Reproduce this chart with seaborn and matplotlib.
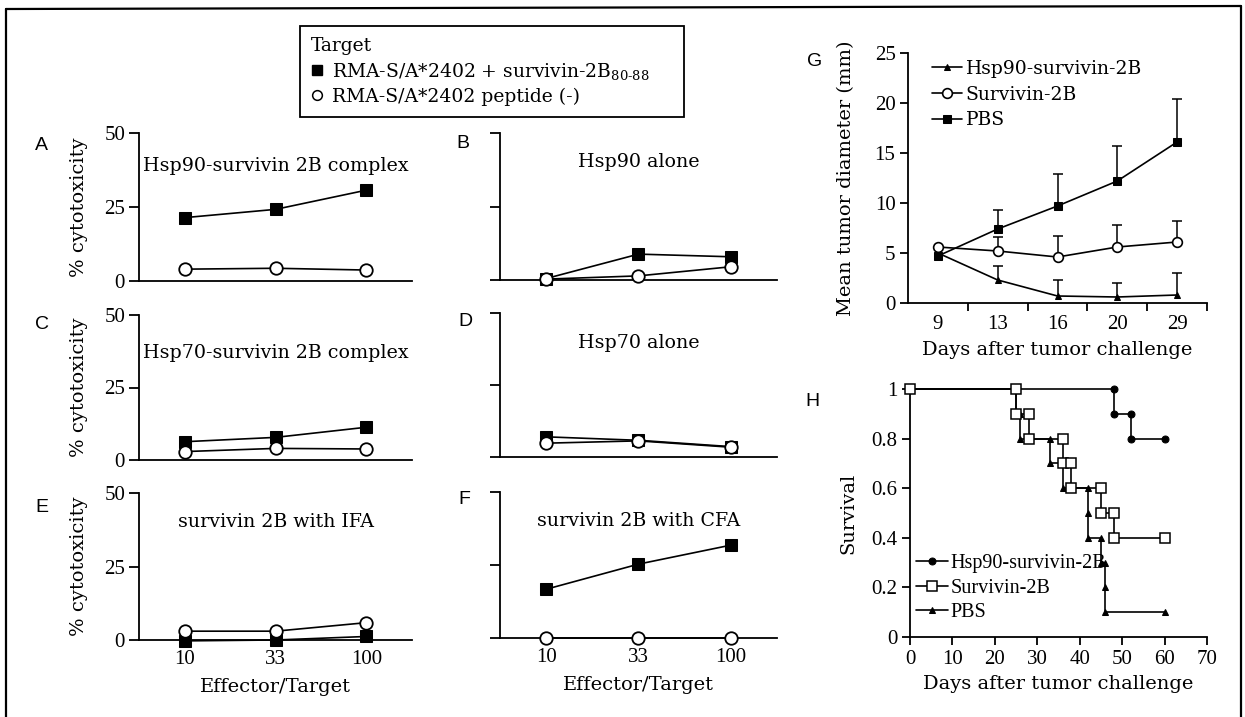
import numpy as np
import pandas as pd
import matplotlib.pyplot as plt
import seaborn as sns
from matplotlib.lines import Line2D

sns.set_theme(style='ticks')
plt.rcParams.update({
    'font.family': ['DejaVu Serif'],
    'mathtext.fontset': 'dejavuserif',
    'axes.linewidth': 1.3,
    'axes.edgecolor': 'black',
    'xtick.major.width': 1.3,
    'ytick.major.width': 1.3,
    'xtick.minor.width': 1.3,
    'xtick.color': 'black',
    'ytick.color': 'black',
    'text.color': 'black',
    'axes.labelcolor': 'black',
})

# --- data ---
et_labels = ['10', '33', '100']

a_pep = [21.4, 24.2, 30.7]
a_neg = [4.0, 4.3, 3.7]
b_pep = [0.5, 8.8, 7.9]
b_neg = [0.3, 1.4, 4.5]
c_pep = [6.3, 7.8, 11.3]
c_neg = [2.9, 4.0, 3.8]
d_pep = [7.0, 5.8, 3.6]
d_neg = [4.8, 5.6, 3.4]
e_pep = [-0.3, 0.0, 1.2]
e_neg = [3.0, 3.0, 5.9]
f_pep = [16.7, 25.3, 31.8]
f_neg = [0.0, 0.0, 0.0]

g_days = ['9', '13', '16', '20', '29']
g_hsp = [5.0, 2.3, 0.7, 0.6, 0.8]
g_hsp_top = [np.nan, 3.7, 2.3, 2.0, 3.0]
g_surv = [5.6, 5.2, 4.6, 5.6, 6.1]
g_surv_top = [np.nan, 6.6, 6.7, 7.8, 8.2]
g_pbs = [4.7, 7.4, 9.7, 12.2, 16.1]
g_pbs_top = [np.nan, 9.3, 12.9, 15.7, 20.4]

h_hsp_t = [0, 25, 48, 48, 52, 52, 60]
h_hsp_s = [1, 1, 1, 0.9, 0.9, 0.8, 0.8]
h_surv_t = [0, 25, 25, 28, 28, 36, 36, 38, 38, 45, 45, 48, 48, 60]
h_surv_s = [1, 1, 0.9, 0.9, 0.8, 0.8, 0.7, 0.7, 0.6, 0.6, 0.5, 0.5, 0.4, 0.4]
h_pbs_t = [0, 25, 25, 26, 26, 33, 33, 36, 36, 42, 42, 42, 45, 45, 46, 46, 46, 60]
h_pbs_s = [1, 1, 0.9, 0.9, 0.8, 0.8, 0.7, 0.7, 0.6, 0.6, 0.5, 0.4, 0.4, 0.3, 0.3, 0.2, 0.1, 0.1]

W, H = 1245, 717
fig = plt.figure(figsize=(W / 100, H / 100), dpi=100)


def box(l, r, t, b):
    return [l / W, 1 - b / H, (r - l) / W, (b - t) / H]


def cyto_panel(rect, letter, letter_xy, title, title_y, pep, neg, left, bottom):
    ax = fig.add_axes(box(*rect))
    df = pd.DataFrame({'pos': range(3), 'pep': pep, 'neg': neg})
    sns.lineplot(data=df, x='pos', y='pep', ax=ax, color='black', linewidth=1.2,
                 marker='s', markersize=8.5, markerfacecolor='black',
                 markeredgecolor='black', clip_on=False, zorder=3)
    sns.lineplot(data=df, x='pos', y='neg', ax=ax, color='black', linewidth=1.2,
                 marker='o', markersize=9, markerfacecolor='white',
                 markeredgecolor='black', markeredgewidth=1.3, clip_on=False, zorder=4)
    ax.set_xlim(-0.5, 2.5)
    ax.set_ylim(0, 50)
    ax.set_yticks([0, 25, 50])
    ax.set_xticks(range(3))
    sns.despine(ax=ax)
    ax.tick_params(axis='y', length=7, direction='out', pad=3)
    ax.tick_params(axis='x', length=0, pad=7)
    if left:
        ax.set_yticklabels(['0', '25', '50'], fontfamily='Liberation Serif', fontsize=15)
        ax.set_ylabel('% cytotoxicity', fontsize=14, labelpad=12)
    else:
        ax.set_yticklabels([])
        ax.set_ylabel('')
    if bottom:
        ax.set_xticklabels(et_labels, fontfamily='Liberation Serif', fontsize=15)
        ax.set_xlabel('Effector/Target', fontsize=14, labelpad=7)
    else:
        ax.set_xticklabels([])
        ax.set_xlabel('')
    ax.text(0.5, title_y, title, transform=ax.transAxes, ha='center', va='center', fontsize=13.7)
    fig.text(letter_xy[0] / W, 1 - letter_xy[1] / H, letter, family='Liberation Sans',
             fontsize=14, ha='left', va='center')
    return ax


cyto_panel((139, 412, 133, 281), 'A', (35, 146), 'Hsp90-survivin 2B complex', 0.78, a_pep, a_neg, True, False)
cyto_panel((500, 777, 133, 280), 'B', (456, 144), 'Hsp90 alone', 0.80, b_pep, b_neg, False, False)
cyto_panel((139, 412, 315, 460), 'C', (35, 324), 'Hsp70-survivin 2B complex', 0.74, c_pep, c_neg, True, False)
cyto_panel((500, 777, 313, 457), 'D', (458, 322), 'Hsp70 alone', 0.79, d_pep, d_neg, False, False)
cyto_panel((139, 412, 493, 640), 'E', (35, 508), 'survivin 2B with IFA', 0.80, e_pep, e_neg, True, True)
cyto_panel((500, 777, 492, 638), 'F', (458, 499), 'survivin 2B with CFA', 0.80, f_pep, f_neg, False, True)

# --- G: tumour diameter ---
axg = fig.add_axes(box(908, 1207, 53, 303))
dg = pd.DataFrame({'pos': range(5), 'hsp': g_hsp, 'surv': g_surv, 'pbs': g_pbs,
                   'hsp_top': g_hsp_top, 'surv_top': g_surv_top, 'pbs_top': g_pbs_top})
for col in ['hsp', 'surv', 'pbs']:
    axg.vlines(dg['pos'], dg[col], dg[col + '_top'], color='black', linewidth=1.1, zorder=1)
    axg.plot(dg['pos'], dg[col + '_top'], ls='none', marker='_', markersize=7,
             markeredgewidth=1.1, color='black', zorder=1)
sns.lineplot(data=dg, x='pos', y='hsp', ax=axg, color='black', linewidth=1.2, marker='^',
             markersize=4.5, markerfacecolor='black', markeredgecolor='black',
             label='Hsp90-survivin-2B', zorder=3)
sns.lineplot(data=dg, x='pos', y='surv', ax=axg, color='black', linewidth=1.2, marker='o',
             markersize=7, markerfacecolor='white', markeredgecolor='black',
             markeredgewidth=1.2, label='Survivin-2B', zorder=4)
sns.lineplot(data=dg, x='pos', y='pbs', ax=axg, color='black', linewidth=1.2, marker='s',
             markersize=6, markerfacecolor='black', markeredgecolor='black',
             label='PBS', zorder=3)
axg.set_xlim(-0.5, 4.5)
axg.set_ylim(0, 25)
axg.set_yticks([0, 5, 10, 15, 20, 25])
axg.set_yticklabels(['0', '5', '10', '15', '20', '25'], fontfamily='Liberation Serif', fontsize=15)
axg.set_xticks(range(5))
axg.set_xticklabels(g_days, fontfamily='Liberation Serif', fontsize=15)
axg.set_xticks([0.5, 1.5, 2.5, 3.5, 4.5], minor=True)
axg.tick_params(axis='x', which='major', length=0, pad=9)
axg.tick_params(axis='x', which='minor', length=6, direction='out')
axg.tick_params(axis='y', length=6, direction='out', pad=3)
sns.despine(ax=axg)
axg.set_xlabel('Days after tumor challenge', fontsize=14, labelpad=5)
axg.set_ylabel('Mean tumor diameter (mm)', fontsize=14, labelpad=14)
axg.legend(loc='upper left', bbox_to_anchor=(0.08, 0.973), frameon=False, fontsize=13.5,
           handlelength=1.6, handletextpad=0.2, labelspacing=0.42, borderpad=0,
           borderaxespad=0)
fig.text(807 / W, 1 - 62 / H, 'G', family='Liberation Sans', fontsize=14, ha='left', va='center')

# --- H: survival ---
axh = fig.add_axes(box(910, 1207, 389, 637))
dh1 = pd.DataFrame({'day': h_hsp_t, 'surv': h_hsp_s})
dh2 = pd.DataFrame({'day': h_surv_t, 'surv': h_surv_s})
dh3 = pd.DataFrame({'day': h_pbs_t, 'surv': h_pbs_s})
sns.lineplot(data=dh1, x='day', y='surv', ax=axh, sort=False, estimator=None, color='black',
             linewidth=1.2, marker='o', markersize=5, markerfacecolor='black',
             markeredgecolor='black', label='Hsp90-survivin-2B', clip_on=False, zorder=3)
sns.lineplot(data=dh2, x='day', y='surv', ax=axh, sort=False, estimator=None, color='black',
             linewidth=1.2, marker='s', markersize=6.5, markerfacecolor='white',
             markeredgecolor='black', markeredgewidth=1.1, label='Survivin-2B',
             clip_on=False, zorder=4)
sns.lineplot(data=dh3, x='day', y='surv', ax=axh, sort=False, estimator=None, color='black',
             linewidth=1.2, marker='^', markersize=5, markerfacecolor='black',
             markeredgecolor='black', label='PBS', clip_on=False, zorder=3)
axh.set_xlim(0, 70)
axh.set_ylim(0, 1)
axh.set_xticks(range(0, 71, 10))
axh.set_xticklabels([str(v) for v in range(0, 71, 10)], fontfamily='Liberation Serif', fontsize=15)
axh.set_yticks([0, 0.2, 0.4, 0.6, 0.8, 1.0])
axh.set_yticklabels(['0', '0.2', '0.4', '0.6', '0.8', '1'], fontfamily='Liberation Serif', fontsize=15)
axh.tick_params(axis='both', length=6, direction='out', pad=3)
sns.despine(ax=axh)
axh.set_xlabel('Days after tumor challenge', fontsize=14, labelpad=5)
axh.set_ylabel('Survival', fontsize=14, labelpad=10)
axh.legend(loc='upper left', bbox_to_anchor=(0.02, 0.335), frameon=False,
           prop={'family': 'Liberation Serif', 'size': 14.5},
           handlelength=1.6, handletextpad=0.1, labelspacing=0.28, borderpad=0,
           borderaxespad=0)
fig.text(805 / W, 1 - 401 / H, 'H', family='Liberation Sans', fontsize=14, ha='left', va='center')

# --- shared target legend ---
handles = [Line2D([], [], ls='none', marker='s', markersize=7.5, color='black'),
           Line2D([], [], ls='none', marker='o', markersize=7, markerfacecolor='white',
                  markeredgecolor='black', markeredgewidth=1.1)]
labels = ['RMA-S/A*2402 + survivin-2B$_{80\u201088}$', 'RMA-S/A*2402 peptide (-)']
leg = fig.legend(handles, labels, title='Target', loc='upper left',
                 bbox_to_anchor=(300 / W, 1 - 115 / H, 384 / W, 89 / H), mode='expand',
                 alignment='left', frameon=True,
                 fancybox=False, edgecolor='black', framealpha=1, fontsize=13.5,
                 title_fontsize=13.5, handlelength=0.6, handletextpad=0.5,
                 labelspacing=0.3, borderpad=0.6, borderaxespad=0)
leg.get_frame().set_linewidth(1.3)

# frame around the whole figure
for xs, ys in [((6, 6), (9, 717)), ((6, 1241), (9, 6)), ((1241, 1241), (6, 717))]:
    fig.add_artist(Line2D([x / W for x in xs], [1 - y / H for y in ys],
                          transform=fig.transFigure, color='black', linewidth=1.6))

fig.savefig('out.png', dpi=100)
